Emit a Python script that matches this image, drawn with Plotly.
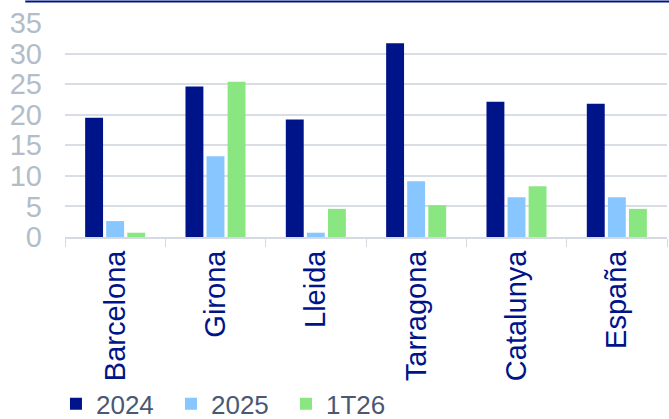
import plotly.graph_objects as go

provincias = ['Barcelona', 'Girona', 'Lleida', 'Tarragona', 'Catalunya', 'España']
v2024 = [19.5, 24.6, 19.2, 31.7, 22.1, 21.8]
v2025 = [2.6, 13.2, 0.7, 9.1, 6.5, 6.5]
v1t26 = [0.7, 25.4, 4.6, 5.2, 8.3, 4.6]

fuente = 'Liberation Sans, Arial, sans-serif'

def barra(nombre, y, color):
    return go.Bar(x=provincias, y=y, name=nombre,
                  marker=dict(color=color, line=dict(width=0)))

data = [
    barra('2024', v2024, '#001489'),
    barra('2025', v2025, '#87C6FF'),
    barra('1T26', v1t26, '#8AE680'),
]

layout = go.Layout(
    width=669, height=419,
    margin=dict(l=65, r=2, t=23, b=182, autoexpand=False),
    paper_bgcolor='white', plot_bgcolor='white',
    font=dict(family=fuente, size=29),
    bargap=0.37, bargroupgap=0.15,
    showlegend=True,
    legend=dict(orientation='h', x=-0.015, xanchor='left', y=-0.78, yanchor='middle',
                font=dict(size=26, color='#4A5874'), entrywidth=70,
                traceorder='normal', bgcolor='rgba(0,0,0,0)'),
    xaxis=dict(
        tickangle=-90, tickfont=dict(size=29, color='#001489'),
        showgrid=False, showline=True, linecolor='#D5DAE2', linewidth=2,
        ticks='outside', tickson='boundaries', ticklen=8, tickcolor='#D5DAE2',
        automargin=False,
    ),
    yaxis=dict(
        range=[0, 35], dtick=5, tickfont=dict(size=29, color='#B3BDC8'),
        showgrid=True, gridcolor='#D9DEE5', gridwidth=1.5,
        zeroline=False, showline=False, ticklabelstandoff=22, automargin=False,
    ),
    shapes=[dict(type='line', xref='paper', yref='paper', x0=-0.066, x1=1.01,
                 y0=1.1, y1=1.1, line=dict(color='#001489', width=2))],
)

fig = go.Figure(data=data, layout=layout)
# quitar el margen por defecto del <body>
fig.write_html("out.html", config={'displayModeBar': False},
               post_script="document.body.style.margin='0';")
